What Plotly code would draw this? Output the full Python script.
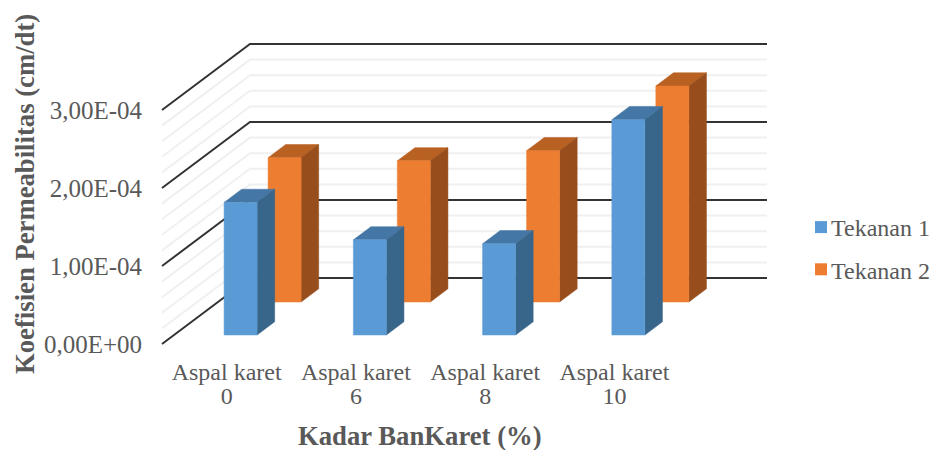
import plotly.graph_objects as go

# --- data ---
category_names = ["Aspal karet", "Aspal karet", "Aspal karet", "Aspal karet"]
category_numbers = ["0", "6", "8", "10"]
tekanan_1 = [1.70e-4, 1.22e-4, 1.17e-4, 2.76e-4]
tekanan_2 = [1.85e-4, 1.81e-4, 1.94e-4, 2.77e-4]
major_ticks = [0, 1e-4, 2e-4, 3e-4]
major_labels = ["0,00E+00", "1,00E-04", "2,00E-04", "3,00E-04"]
minor_ticks = [0.2e-4, 0.4e-4, 0.6e-4, 0.8e-4, 1.2e-4, 1.4e-4, 1.6e-4, 1.8e-4,
               2.2e-4, 2.4e-4, 2.6e-4, 2.8e-4]

# --- oblique projection ---
W, H = 935, 450
ORIGIN_PX = (162, 344)   # front-left floor corner
CAT_PX = 129.25          # pixels per category
VAL_PX = 78 / 1e-4       # pixels per unit of value
DX = 88 / CAT_PX         # full-depth shift, x (category units)
DY = 66 / VAL_PX         # full-depth shift, y (value units)
N = len(category_names)

x_range = [-ORIGIN_PX[0] / CAT_PX, (W - ORIGIN_PX[0]) / CAT_PX]
y_range = [-(H - ORIGIN_PX[1]) / VAL_PX, ORIGIN_PX[1] / VAL_PX]


def proj(x, v, d):
    return x + d * DX, v + d * DY


fig = go.Figure()


def polygon(points, color):
    xs, ys = zip(*[proj(*p) for p in points])
    fig.add_trace(go.Scatter(
        x=list(xs) + [xs[0]], y=list(ys) + [ys[0]], mode="lines", fill="toself",
        fillcolor=color, line=dict(color=color, width=0.5),
        showlegend=False, hoverinfo="skip"))


def wall_line(v, color, width):
    xs, ys = zip(proj(0, v, 0), proj(0, v, 1), proj(N, v, 1))
    fig.add_trace(go.Scatter(
        x=list(xs), y=list(ys), mode="lines", line=dict(color=color, width=width),
        showlegend=False, hoverinfo="skip"))


for v in minor_ticks:
    wall_line(v, "#f0f0f0", 2)
for v in major_ticks:
    wall_line(v, "#333333", 2)

HALF = 33 / CAT_PX / 2
SHIFT = 2 / CAT_PX
DEPTH = 0.2


def bar(i, value, d0, front, side, top):
    x0 = i + 0.5 + SHIFT - HALF
    x1 = i + 0.5 + SHIFT + HALF
    d1 = d0 + DEPTH
    polygon([(x0, value, d0), (x1, value, d0), (x1, value, d1), (x0, value, d1)], top)
    polygon([(x1, 0, d0), (x1, 0, d1), (x1, value, d1), (x1, value, d0)], side)
    polygon([(x0, 0, d0), (x1, 0, d0), (x1, value, d0), (x0, value, d0)], front)


for i, v in enumerate(tekanan_2):
    bar(i, v, 0.636, "#ED7D31", "#974E1C", "#B96122")
for i, v in enumerate(tekanan_1):
    bar(i, v, 0.136, "#5B9BD5", "#38658A", "#4577A6")

# Legend entries
for name, color in (("Tekanan 1", "#5B9BD5"), ("Tekanan 2", "#ED7D31")):
    fig.add_trace(go.Scatter(
        x=[None], y=[None], mode="markers", name=name, legendgroup=name,
        marker=dict(symbol="square", size=12, color=color)))

# Second overlaid category axis carries the second line of each category label
fig.add_trace(go.Scatter(x=[None], y=[None], xaxis="x2", showlegend=False, hoverinfo="skip"))

FONT = "Liberation Serif"
XTICK = dict(family=FONT, size=24, color="#595959")
YTICK = dict(family=FONT, size=25, color="#595959")
cat_pos = [i + 0.5 for i in range(N)]
common_x = dict(
    range=x_range, domain=[0, 1], anchor="free", position=(H - ORIGIN_PX[1]) / H,
    tickmode="array", tickvals=cat_pos, tickfont=XTICK, ticks="", showgrid=False,
    zeroline=False, showline=False, fixedrange=True, tickangle=0, side="bottom")

fig.update_layout(
    width=W, height=H, autosize=False,
    margin=dict(l=0, r=0, t=0, b=0),
    paper_bgcolor="white", plot_bgcolor="white",
    font=dict(family=FONT),
    xaxis=dict(ticktext=category_names, ticklabelstandoff=11, **common_x),
    xaxis2=dict(ticktext=category_numbers, ticklabelstandoff=35, overlaying="x", **common_x),
    yaxis=dict(
        range=y_range, domain=[0, 1], anchor="free",
        position=ORIGIN_PX[0] / W,
        tickmode="array", tickvals=major_ticks, ticktext=major_labels,
        tickfont=YTICK, ticks="", showgrid=False, zeroline=False, showline=False,
        ticklabelstandoff=20, fixedrange=True),
    legend=dict(
        x=791 / W, y=1 - 205 / H, xanchor="left", yanchor="top",
        font=dict(family=FONT, size=24, color="#595959"),
        bgcolor="rgba(0,0,0,0)", itemwidth=30, traceorder="grouped", tracegroupgap=8),
    annotations=[
        dict(text="<b>Kadar BanKaret (%)</b>", x=420 / W, y=1 - 435.5 / H,
             xref="paper", yref="paper", showarrow=False, xanchor="center", yanchor="middle",
             font=dict(family=FONT, size=26.7, color="#595959")),
        dict(text="<b>Koefisien Permeabilitas (cm/dt)</b>", x=25 / W, y=1 - 194 / H,
             xref="paper", yref="paper", showarrow=False, textangle=-90, xanchor="center", yanchor="middle",
             font=dict(family=FONT, size=26.7, color="#595959")),
    ],
)

# Remove the page margin; move legend swatches next to their labels and let labels reach the edge
PAGE_JS = ("document.body.style.margin='0';"
           "document.querySelectorAll('.legend .legendsymbols')"
           ".forEach(function(e){e.setAttribute('transform','translate(10,0)');});"
           "document.querySelectorAll('.legend .scrollbox, .legend')"
           ".forEach(function(e){e.removeAttribute('clip-path');e.style.clipPath='none';});")
fig.write_html("out.html", config=dict(displayModeBar=False), post_script=PAGE_JS)
